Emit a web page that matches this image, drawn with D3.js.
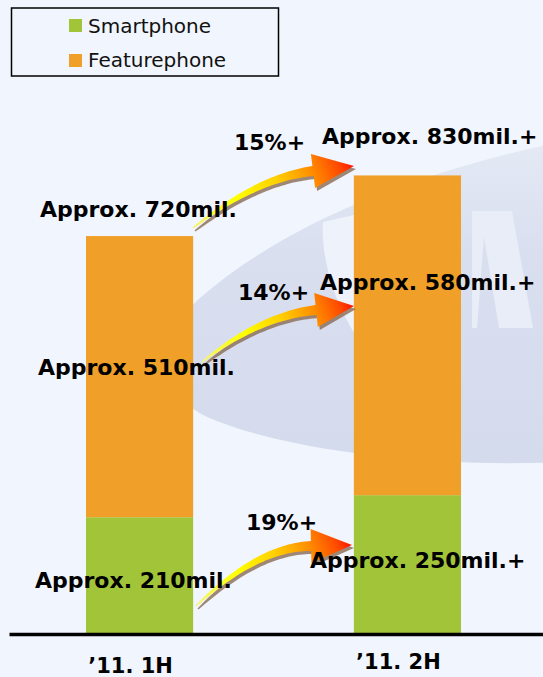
<!DOCTYPE html>
<html>
<head>
<meta charset="utf-8">
<script src="https://cdn.jsdelivr.net/npm/d3@7"></script>
<style>
  html, body { margin: 0; padding: 0; background: #f1f5fd; }
  svg { display: block; }
</style>
</head>
<body>
<svg id="chart" width="543" height="677"></svg>
<script>
// Handset shipments by half-year (millions of units)
const categories = ["\u201911. 1H", "\u201911. 2H"];
const seriesKeys = ["Smartphone", "Featurephone"];
const smartphone = [210, 250];
const featurephone = [510, 580];
const totals = [720, 830];
// Half-on-half growth, top to bottom: total, featurephone, smartphone
const growthPct = [15, 14, 19];

const colors = { Smartphone: "#a2c438", Featurephone: "#f0a028" };
const bg = "#f1f5fd";
const W = 543, H = 677;
const baseY = 633;

const svg = d3.select("#chart");
const defs = svg.append("defs");

svg.append("rect").attr("width", W).attr("height", H).attr("fill", bg);

// ---- faint logo watermark behind the bars ----
const wmGrad = defs.append("linearGradient").attr("id", "wm")
  .attr("x1", 0).attr("y1", 0).attr("x2", 0).attr("y2", 1);
wmGrad.append("stop").attr("offset", 0).attr("stop-color", "#e4e9f5");
wmGrad.append("stop").attr("offset", 0.35).attr("stop-color", "#d9dfef");
wmGrad.append("stop").attr("offset", 1).attr("stop-color", "#d4dbed");
const wm = svg.append("g");
wm.append("path")
  .attr("d", "M560,142 C420,172 290,220 200,298 C160,332 160,395 205,416 C280,450 430,468 560,462 Z")
  .attr("fill", "url(#wm)");
wm.append("path")
  .attr("d", "M323,222 C321,258 333,300 356,336 L420,336 L420,200 Z")
  .attr("fill", "#eef2fb");
wm.append("path")
  .attr("fill-rule", "evenodd")
  .attr("d", "M472,211 L512,211 L533,328 L472,328 Z M484,237 L477,328 L499,328 Z")
  .attr("fill", "#e8edf8");

// ---- scales ----
const x = d3.scaleBand().domain(categories).range([86, 461]).paddingInner(0.6).paddingOuter(0);
const y = d3.scaleLinear().domain([0, 900]).range([baseY, baseY - 900 * 0.5513]);

const rows = categories.map((c, i) => ({ cat: c, Smartphone: smartphone[i], Featurephone: featurephone[i] }));
const stacked = d3.stack().keys(seriesKeys)(rows);

// ---- bars ----
svg.append("g").selectAll("g").data(stacked).join("g")
  .attr("fill", d => colors[d.key])
  .selectAll("rect").data(d => d).join("rect")
  .attr("x", d => x(d.data.cat))
  .attr("width", x.bandwidth())
  .attr("y", d => y(d[1]))
  .attr("height", d => y(d[0]) - y(d[1]));

// baseline axis
const axisG = svg.append("g").attr("transform", `translate(0,${baseY + 1})`)
  .call(d3.axisBottom(d3.scaleLinear().range([9, W])).ticks(0).tickSizeOuter(0));
axisG.select(".domain").attr("stroke", "#000").attr("stroke-width", 3.5);

// category labels
const catDy = [40, 36];
svg.append("g").selectAll("text").data(categories).join("text")
  .attr("x", d => x(d) + x.bandwidth() / 2 - 9)
  .attr("y", (d, i) => baseY + catDy[i])
  .attr("text-anchor", "middle")
  .attr("font-family", "DejaVu Sans, sans-serif")
  .attr("font-weight", "bold")
  .attr("font-size", 21)
  .attr("fill", "#000")
  .text(d => d);

// ---- growth arrows ----
function arrowPath(T, B, P, hw, w0, w1) {
  const dx = P[0] - B[0], dy = P[1] - B[1];
  const L = Math.hypot(dx, dy);
  const d = [dx / L, dy / L];
  // control point where the steep tail tangent meets the head direction
  const u = ((B[0] - T[0]) - (T[1] - B[1])) / (d[0] - d[1]);
  const C = [B[0] - u * d[0], B[1] - u * d[1]];
  const N = 40, left = [], right = [];
  for (let k = 0; k <= N; k++) {
    const t = k / N, mt = 1 - t;
    const px = mt * mt * T[0] + 2 * mt * t * C[0] + t * t * B[0];
    const py = mt * mt * T[1] + 2 * mt * t * C[1] + t * t * B[1];
    let tx = 2 * mt * (C[0] - T[0]) + 2 * t * (B[0] - C[0]);
    let ty = 2 * mt * (C[1] - T[1]) + 2 * t * (B[1] - C[1]);
    const tl = Math.hypot(tx, ty); tx /= tl; ty /= tl;
    const nx = -ty, ny = tx;
    const w = (w0 + (w1 - w0) * Math.pow(t, 0.8)) / 2;
    left.push([px + nx * w, py + ny * w]);
    right.push([px - nx * w, py - ny * w]);
  }
  const n = [-d[1], d[0]];
  const pts = left.concat([
    [B[0] + n[0] * hw, B[1] + n[1] * hw],
    P,
    [B[0] - n[0] * hw, B[1] - n[1] * hw]
  ]).concat(right.reverse());
  return "M" + pts.map(p => p[0].toFixed(1) + "," + p[1].toFixed(1)).join("L") + "Z";
}

const arrows = [
  { T: [193, 228], B: [313, 171], P: [354, 166] },
  { T: [202, 362], B: [316, 310], P: [354, 306] },
  { T: [196, 606], B: [311, 546], P: [352, 545] }
];
const arrowG = svg.append("g");
arrows.forEach((a, i) => {
  const g = defs.append("linearGradient").attr("id", "ag" + i)
    .attr("gradientUnits", "userSpaceOnUse")
    .attr("x1", a.T[0]).attr("y1", a.T[1]).attr("x2", a.P[0]).attr("y2", a.P[1]);
  [[0, "#f4f47a"], [0.3, "#ffff00"], [0.55, "#ffd000"], [0.75, "#ff9000"], [0.92, "#ff4800"], [1, "#ff1000"]]
    .forEach(s => g.append("stop").attr("offset", s[0]).attr("stop-color", s[1]));
  const dPath = arrowPath(a.T, a.B, a.P, 17, 1.5, 10);
  arrowG.append("path").attr("d", dPath).attr("fill", "#8a6b55").attr("opacity", 0.8)
    .attr("transform", "translate(2,3)");
  arrowG.append("path").attr("d", dPath).attr("fill", `url(#ag${i})`);
});

// ---- value and growth labels ----
const fmt1 = v => `Approx. ${v}mil.`;
const fmt2 = v => `Approx. ${v}mil.+`;
const labels = [
  { t: fmt1(totals[0]), x: 40, y: 217 },
  { t: fmt1(featurephone[0]), x: 38, y: 375 },
  { t: fmt1(smartphone[0]), x: 35, y: 588 },
  { t: fmt2(totals[1]), x: 322, y: 144 },
  { t: fmt2(featurephone[1]), x: 320, y: 290 },
  { t: fmt2(smartphone[1]), x: 310, y: 568 },
  { t: growthPct[0] + "%+", x: 234, y: 150 },
  { t: growthPct[1] + "%+", x: 238, y: 300 },
  { t: growthPct[2] + "%+", x: 246, y: 530 }
];
svg.append("g").selectAll("text").data(labels).join("text")
  .attr("x", d => d.x).attr("y", d => d.y)
  .attr("font-family", "DejaVu Sans, sans-serif")
  .attr("font-weight", "bold")
  .attr("font-size", 22)
  .attr("fill", "#000")
  .text(d => d.t);

// ---- legend ----
const lg = svg.append("g");
lg.append("rect").attr("x", 11.5).attr("y", 8).attr("width", 267).attr("height", 68)
  .attr("fill", bg).attr("stroke", "#000").attr("stroke-width", 1.5);
seriesKeys.forEach((k, i) => {
  lg.append("rect").attr("x", 69).attr("y", 19 + i * 35).attr("width", 13).attr("height", 13)
    .attr("fill", colors[k]);
  lg.append("text").attr("x", 88).attr("y", 33 + i * 34)
    .attr("font-family", "DejaVu Sans, sans-serif")
    .attr("font-size", 20)
    .attr("fill", "#111")
    .text(k);
});
</script>
</body>
</html>
